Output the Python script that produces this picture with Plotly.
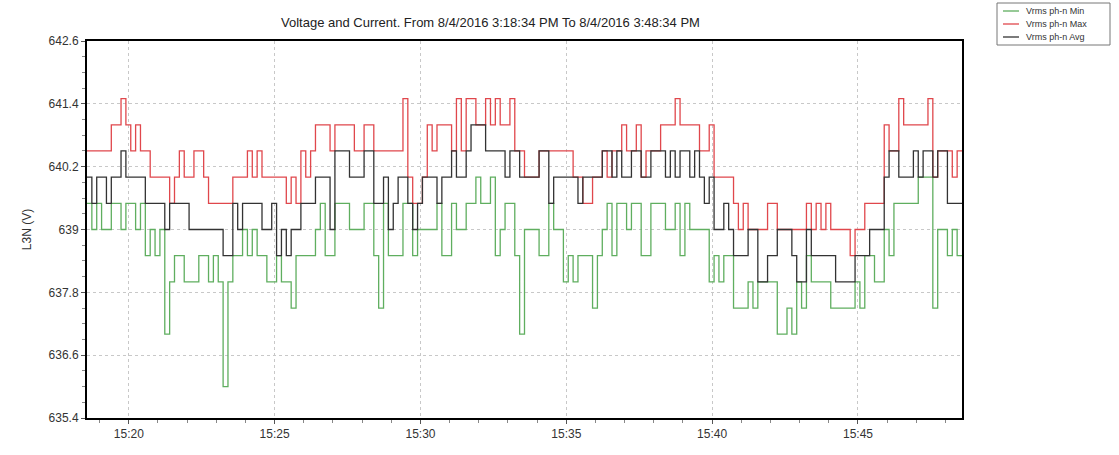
import pandas as pd
import plotly.graph_objects as go

# 10-second RMS phase-to-neutral voltage samples, 15:18:34 - 15:48:34
start_time = "2016-08-04 15:18:34"
end_time = "2016-08-04 15:48:34"

vrms_min = [
    639.5, 639.0, 639.5, 639.0, 639.0, 639.5, 639.5, 639.0, 639.5, 639.5,
    639.0, 639.5, 638.5, 639.0, 638.5, 639.0, 637.0, 638.0, 638.5, 638.5,
    638.0, 638.0, 638.0, 638.5, 638.5, 638.0, 638.5, 638.0, 636.0, 638.0,
    638.5, 638.5, 639.0, 638.5, 639.0, 638.5, 638.5, 638.0, 638.0, 638.5,
    638.0, 638.0, 637.5, 638.5, 638.5, 638.5, 638.5, 639.0, 639.5, 638.5,
    638.5, 639.5, 639.5, 639.5, 639.0, 639.0, 639.0, 639.5, 639.5, 638.5,
    637.5, 639.5, 638.5, 638.5, 638.5, 639.5, 639.5, 638.5, 639.0, 639.0,
    639.0, 639.0, 639.5, 638.5, 638.5, 639.5, 639.0, 639.0, 639.5, 639.5,
    640.0, 639.5, 639.5, 640.0, 638.5, 639.0, 639.5, 639.5, 638.5, 637.0,
    639.0, 639.0, 639.0, 638.5, 638.5, 639.5, 639.0, 639.0, 638.0, 638.5,
    638.0, 638.5, 638.5, 638.5, 637.5, 638.5, 639.0, 639.5, 638.5, 639.5,
    639.5, 639.0, 639.5, 639.5, 638.5, 638.5, 639.5, 639.5, 639.5, 639.0,
    639.0, 639.5, 638.5, 639.5, 639.0, 639.0, 639.0, 639.0, 638.0, 638.5,
    638.0, 638.5, 638.5, 637.5, 637.5, 637.5, 638.0, 637.5, 638.0, 638.0,
    638.0, 638.0, 637.0, 637.0, 637.5, 637.0, 638.0, 637.5, 638.5, 638.0,
    638.0, 638.0, 638.0, 637.5, 637.5, 637.5, 637.5, 637.5, 638.0, 637.5,
    638.5, 638.5, 638.0, 638.0, 639.0, 638.5, 639.5, 639.5, 639.5, 639.5,
    639.5, 640.0, 640.0, 640.0, 637.5, 639.0, 639.0, 638.5, 639.0, 638.5,
    638.5,
]

vrms_max = [
    640.5, 640.5, 640.5, 640.5, 640.5, 641.0, 641.0, 641.5, 641.0, 640.5,
    641.0, 640.5, 640.5, 640.0, 640.0, 640.0, 640.0, 639.5, 640.0, 640.5,
    640.0, 640.0, 640.5, 640.5, 640.0, 639.5, 639.5, 639.5, 639.5, 639.5,
    640.0, 640.0, 640.0, 640.5, 640.0, 640.5, 640.0, 640.0, 640.0, 640.0,
    640.0, 639.5, 640.0, 639.5, 640.5, 640.0, 640.5, 641.0, 641.0, 641.0,
    640.5, 641.0, 641.0, 641.0, 641.0, 640.5, 640.5, 641.0, 641.0, 640.5,
    640.5, 640.5, 640.5, 640.5, 640.5, 641.5, 640.0, 639.5, 639.5, 640.0,
    641.0, 640.5, 641.0, 641.0, 641.0, 640.5, 641.5, 640.5, 641.5, 641.5,
    641.0, 641.0, 641.5, 641.0, 641.5, 641.0, 641.0, 641.5, 640.5, 640.5,
    640.0, 640.0, 640.0, 640.5, 640.5, 640.5, 640.5, 640.5, 640.5, 640.5,
    640.0, 640.0, 639.5, 639.5, 640.0, 640.0, 640.5, 640.0, 640.5, 640.5,
    641.0, 640.5, 640.5, 641.0, 640.0, 640.5, 640.5, 640.5, 641.0, 641.0,
    641.0, 641.5, 641.0, 641.0, 641.0, 641.0, 640.5, 640.5, 641.0, 640.0,
    640.0, 640.0, 640.0, 639.5, 639.0, 639.5, 639.0, 639.0, 639.0, 639.0,
    639.5, 639.5, 639.0, 639.0, 639.0, 639.0, 639.0, 639.0, 639.5, 639.0,
    639.5, 639.0, 639.5, 639.0, 639.0, 639.0, 639.0, 638.5, 639.0, 639.0,
    639.5, 639.5, 639.5, 639.5, 641.0, 640.5, 640.5, 641.5, 641.0, 641.0,
    641.0, 641.0, 641.0, 641.5, 640.0, 640.5, 640.5, 640.5, 640.0, 640.5,
    640.5,
]

vrms_avg = [
    640.0, 639.5, 640.0, 640.0, 639.5, 640.0, 640.0, 640.5, 640.0, 640.0,
    640.0, 640.0, 639.5, 639.5, 639.5, 639.5, 639.0, 639.5, 639.5, 639.5,
    639.5, 639.0, 639.0, 639.0, 639.0, 639.0, 639.0, 639.0, 638.5, 638.5,
    639.5, 639.0, 639.5, 639.5, 639.5, 639.5, 639.0, 639.0, 639.5, 638.5,
    639.0, 638.5, 639.0, 639.0, 639.5, 639.5, 639.5, 640.0, 640.0, 640.0,
    639.0, 640.5, 640.5, 640.5, 640.0, 640.0, 640.0, 640.5, 640.5, 639.5,
    639.5, 640.0, 639.0, 639.5, 640.0, 640.0, 639.5, 639.0, 639.5, 640.0,
    640.0, 640.0, 639.5, 640.0, 640.0, 640.5, 640.0, 640.0, 640.5, 641.0,
    641.0, 641.0, 640.5, 640.5, 640.5, 640.5, 640.0, 640.5, 640.5, 640.0,
    640.0, 640.0, 640.0, 640.5, 640.5, 639.5, 640.0, 640.0, 640.0, 640.0,
    640.0, 639.5, 640.0, 640.0, 640.0, 640.0, 640.5, 640.5, 640.0, 640.5,
    640.0, 640.0, 640.5, 640.5, 640.0, 640.0, 640.5, 640.5, 640.5, 640.0,
    640.5, 640.0, 640.5, 640.5, 640.0, 640.5, 640.0, 639.5, 640.0, 639.0,
    639.0, 639.5, 639.0, 638.5, 638.5, 638.5, 639.0, 639.0, 638.0, 638.0,
    638.5, 638.5, 639.0, 639.0, 639.0, 638.5, 638.0, 638.0, 639.0, 638.5,
    638.5, 638.5, 638.5, 638.5, 638.0, 638.0, 638.0, 638.0, 638.5, 638.5,
    638.5, 639.0, 639.0, 639.0, 640.0, 640.5, 640.5, 640.0, 640.0, 640.0,
    640.5, 640.0, 640.5, 640.5, 640.0, 640.5, 640.5, 639.5, 639.5, 639.5,
    639.5,
]

series_names = ["Vrms ph-n Min", "Vrms ph-n Max", "Vrms ph-n Avg"]
series_colors = ["#5fae5f", "#e0474c", "#333333"]

y_tick_vals = [635.4, 636.6, 637.8, 639.0, 640.2, 641.4, 642.6]
y_tick_text = ["635.4", "636.6", "637.8", "639", "640.2", "641.4", "642.6"]

times = pd.date_range(start_time, periods=len(vrms_avg), freq="10s")

# Figure geometry in pixels, used to place the compact legend box
W, H = 1119, 455
ML, MR, MT, MB = 87, 157, 41, 37
PW, PH = W - ML - MR, H - MT - MB


def px_x(px):
    return (px - ML) / PW


def px_y(py):
    return (H - MB - py) / PH


fig = go.Figure()
for name, vals, color in zip(series_names, [vrms_min, vrms_max, vrms_avg], series_colors):
    fig.add_trace(go.Scatter(
        x=times, y=vals, name=name, mode="lines", showlegend=False,
        line=dict(color=color, width=1.3, shape="hv"),
    ))

# Compact boxed legend in the upper right corner
shapes = [dict(
    type="rect", xref="paper", yref="paper",
    x0=px_x(997), x1=px_x(1110), y0=px_y(45), y1=px_y(3),
    line=dict(color="#777777", width=1), fillcolor="white", layer="above",
)]
annotations = []
for k, (name, color) in enumerate(zip(series_names, series_colors)):
    ly = 11 + k * 13
    shapes.append(dict(
        type="line", xref="paper", yref="paper",
        x0=px_x(1003), x1=px_x(1019), y0=px_y(ly), y1=px_y(ly),
        line=dict(color=color, width=1.3), layer="above",
    ))
    annotations.append(dict(
        text=name, xref="paper", yref="paper", x=px_x(1024), y=px_y(ly),
        xanchor="left", yanchor="middle", showarrow=False,
        font=dict(size=9, color="#333333"),
    ))

annotations.append(dict(
    text="Voltage and Current. From 8/4/2016 3:18:34 PM To 8/4/2016 3:48:34 PM",
    xref="paper", yref="paper", x=px_x(490), y=px_y(22),
    xanchor="center", yanchor="middle", showarrow=False,
    font=dict(size=13, color="#222222"),
))

fig.update_layout(
    width=W, height=H,
    margin=dict(l=ML, r=MR, t=MT, b=MB),
    paper_bgcolor="white", plot_bgcolor="white",
    font=dict(family="Liberation Sans, Arial, sans-serif", color="#333333", size=12),
    showlegend=False,
    shapes=shapes,
    annotations=annotations,
)

fig.update_xaxes(
    type="date", range=[start_time, end_time],
    tick0="2016-08-04 15:20:00", dtick=300000, tickformat="%H:%M",
    ticks="outside", ticklen=4, tickcolor="#555555",
    showgrid=True, gridcolor="#c8c8c8", griddash="dot", gridwidth=1,
    minor=dict(dtick=60000, ticks="outside", ticklen=3, tickcolor="#888888", showgrid=False),
    showline=True, linecolor="black", linewidth=2, mirror=True,
    zeroline=False, tickfont=dict(size=12, color="#333333"),
)

fig.update_yaxes(
    range=[635.4, 642.6], tickvals=y_tick_vals, ticktext=y_tick_text,
    ticks="outside", ticklen=4, tickcolor="#555555",
    showgrid=True, gridcolor="#c8c8c8", griddash="dot", gridwidth=1,
    minor=dict(dtick=0.3, tick0=635.4, ticks="outside", ticklen=3, tickcolor="#888888", showgrid=False),
    showline=True, linecolor="black", linewidth=2, mirror=True,
    zeroline=False, tickfont=dict(size=12, color="#333333"),
    title=dict(text="L3N (V)", font=dict(size=12, color="#333333"), standoff=14),
)

fig.write_html("out.html")
